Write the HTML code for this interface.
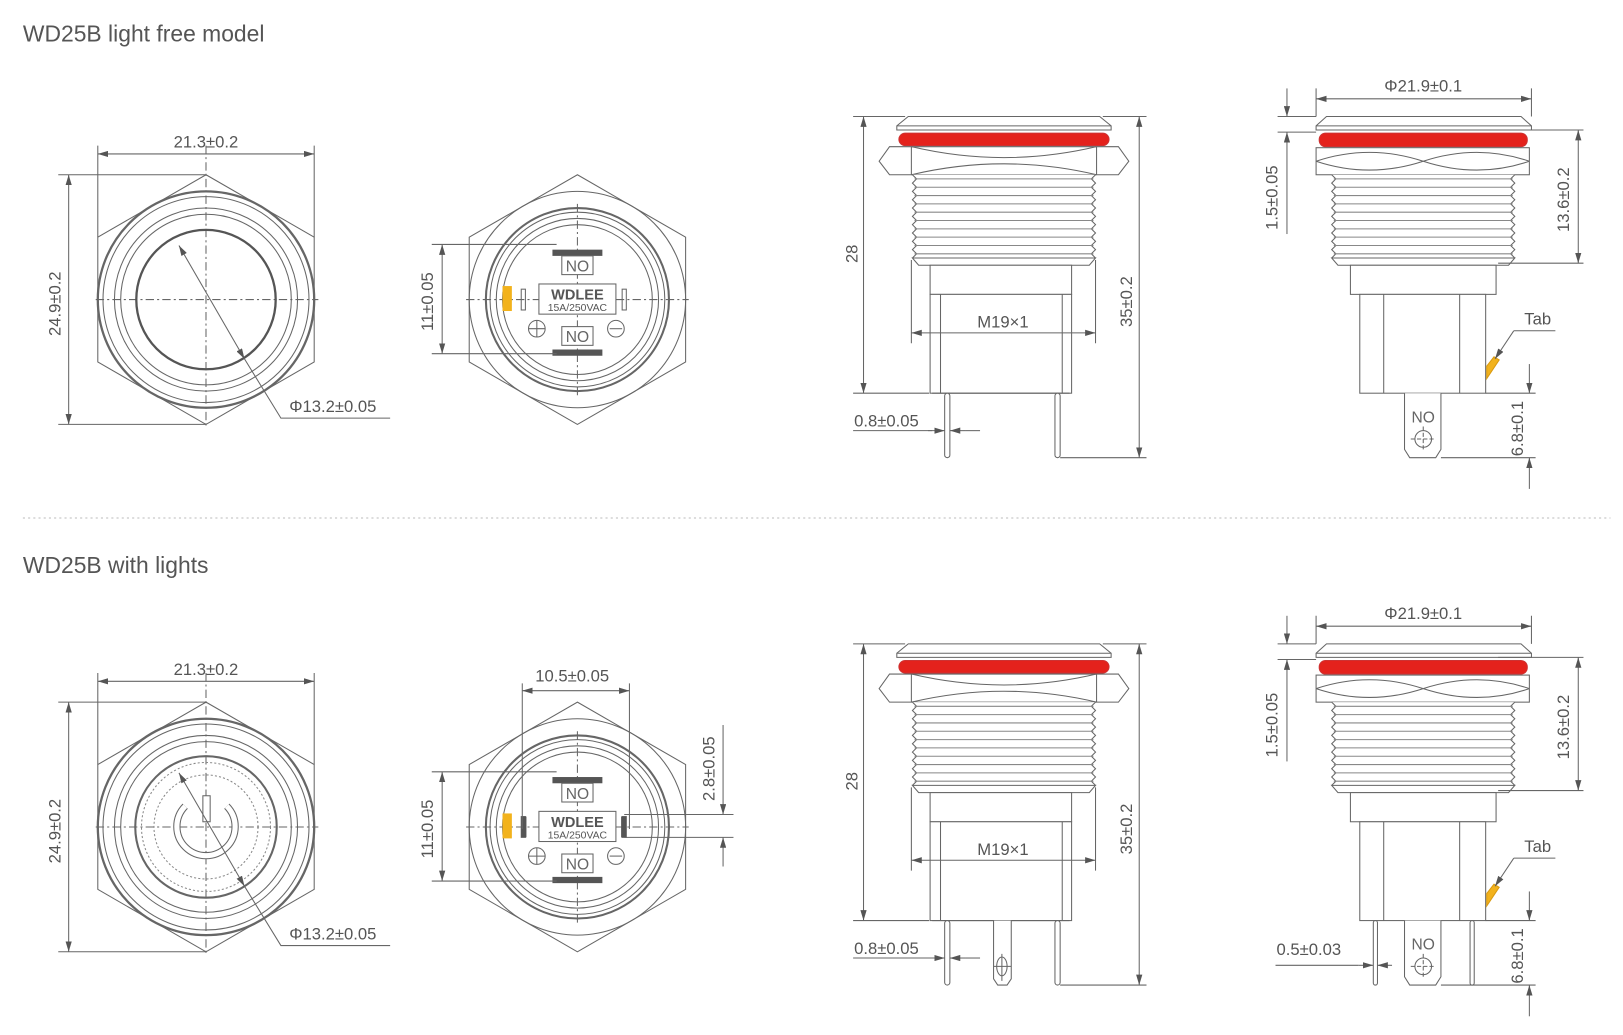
<!DOCTYPE html>
<html><head><meta charset="utf-8"><style>
html,body{margin:0;padding:0;background:#fff;}
svg{display:block;}
text{font-family:"Liberation Sans",sans-serif;fill:#555;}
</style></head><body>
<svg width="1623" height="1035" viewBox="0 0 1560 995" preserveAspectRatio="none" xmlns="http://www.w3.org/2000/svg">
<defs>
<marker id="a" viewBox="0 0 10 6" refX="10" refY="3" markerWidth="10" markerHeight="6" orient="auto-start-reverse" markerUnits="userSpaceOnUse"><path d="M0,0 L10,3 L0,6z" fill="#555"/></marker>

<g id="hexA" fill="none" stroke="#666">
<polygon points="198,168 302,228 302,348 198,408 94,348 94,228" stroke-width="1"/>
<circle cx="198" cy="288" r="104" stroke-width="2.2"/>
<circle cx="198" cy="288" r="99"/>
<circle cx="198" cy="288" r="88"/>
<circle cx="198" cy="288" r="82"/>
<line x1="92" y1="288" x2="306" y2="288" stroke-dasharray="8,3,2,3"/>
<line x1="198" y1="140" x2="198" y2="412" stroke-dasharray="8,3,2,3"/>
</g>

<g id="hexB" fill="none" stroke="#666">
<polygon points="555,168 659,228 659,348 555,408 451,348 451,228"/>
<circle cx="555" cy="288" r="104"/>
<circle cx="555" cy="288" r="88" stroke-width="2"/>
<circle cx="555" cy="288" r="84"/>
<circle cx="555" cy="288" r="78"/>
<circle cx="555" cy="288" r="72"/>
<line x1="448" y1="288" x2="662" y2="288" stroke-dasharray="8,3,2,3"/>
<line x1="555" y1="196" x2="555" y2="382" stroke-dasharray="8,3,2,3"/>
<rect x="531" y="240" width="48" height="6" fill="#555" stroke="none"/>
<rect x="531" y="336" width="48" height="6" fill="#555" stroke="none"/>
<rect x="540" y="246" width="30" height="18" fill="#fff"/>
<rect x="540" y="314" width="30" height="18" fill="#fff"/>
<rect x="518" y="273" width="74" height="29" fill="#fff"/>
<rect x="483" y="275" width="9" height="24" fill="#f2b21c" stroke="none"/>
<rect x="501" y="278" width="4" height="20"/>
<rect x="598" y="278" width="4" height="20"/>
<circle cx="516" cy="316" r="8"/><path d="M508,316h16M516,308v16"/>
<circle cx="592" cy="316" r="8"/><path d="M586,316h12"/>
</g>

<g id="sideA" stroke="#666" fill="#fff">
<polygon points="873,112 1057,112 1068,121 1068,125 862,125 862,121"/>
<line x1="862" y1="121" x2="1068" y2="121"/>
<rect x="864" y="128" width="202" height="12" rx="6" fill="#e4221c" stroke="#c33"/>
<polygon points="855,141 1075,141 1085,155 1075,168 855,168 845,155"/>
<path d="M876,141 Q965,162 1054,141 M876,168 Q965,147 1054,168 M876,141 V168 M1054,141 V168" fill="none"/>
<rect x="877" y="168" width="176" height="82" stroke="none"/>
<polyline fill="none" points="877,168 881,172 877,176 881,180 877,184 881,188 877,192 881,196 877,200 881,204 877,208 881,212 877,216 881,220 877,224 881,228 877,232 881,236 877,240 881,244 877,248"/>
<polyline fill="none" points="1053,168 1049,172 1053,176 1049,180 1053,184 1049,188 1053,192 1049,196 1053,200 1049,204 1053,208 1049,212 1053,216 1049,220 1053,224 1049,228 1053,232 1049,236 1053,240 1049,244 1053,248"/>
<path fill="none" d="M879,172H1051M879,180H1051M879,188H1051M879,196H1051M879,204H1051M879,212H1051M879,220H1051M879,228H1051M879,236H1051M879,244H1051" stroke="#888"/>
<polygon points="877,248 1053,248 1047,255 883,255"/>
<rect x="894" y="255" width="136" height="28"/>
<rect x="894" y="283" width="136" height="95"/>
<path d="M904,283V378M1021,283V378" fill="none"/>
<path d="M896,378 L1028,378" fill="none"/>
<rect x="908" y="378" width="5" height="62" rx="2.5"/>
<rect x="1014" y="378" width="5" height="62" rx="2.5"/>
</g>

<g id="sideB" stroke="#666" fill="#fff">
<polygon points="1275,112 1462,112 1472,121 1472,125 1265,125 1265,121"/>
<line x1="1265" y1="121" x2="1472" y2="121"/>
<rect x="1268" y="128" width="200" height="13" rx="6" fill="#e4221c" stroke="#c33"/>
<rect x="1265" y="142" width="205" height="26"/>
<path d="M1265,155 Q1316,138 1368,155 Q1420,138 1470,155 M1265,155 Q1316,172 1368,155 Q1420,172 1470,155" fill="none"/>
<rect x="1280" y="168" width="176" height="82" stroke="none"/>
<polyline fill="none" points="1280,168 1284,172 1280,176 1284,180 1280,184 1284,188 1280,192 1284,196 1280,200 1284,204 1280,208 1284,212 1280,216 1284,220 1280,224 1284,228 1280,232 1284,236 1280,240 1284,244 1280,248"/>
<polyline fill="none" points="1456,168 1452,172 1456,176 1452,180 1456,184 1452,188 1456,192 1452,196 1456,200 1452,204 1456,208 1452,212 1456,216 1452,220 1456,224 1452,228 1456,232 1452,236 1456,240 1452,244 1456,248"/>
<path fill="none" d="M1282,172H1454M1282,180H1454M1282,188H1454M1282,196H1454M1282,204H1454M1282,212H1454M1282,220H1454M1282,228H1454M1282,236H1454M1282,244H1454" stroke="#888"/>
<polygon points="1280,248 1456,248 1450,255 1286,255"/>
<rect x="1298" y="255" width="140" height="28"/>
<rect x="1307" y="283" width="121" height="95"/>
<path d="M1330,283V378M1403,283V378" fill="none"/>
<polygon points="1429,352 1436,343 1441,346 1429,364" fill="#f2b21c" stroke="#d99a10"/>
<path d="M1350,378 V432 L1355,440 H1380 L1385,432 V378"/>
<circle cx="1368" cy="422" r="8" fill="none"/><path d="M1356,422h24M1368,410v24" fill="none" stroke-dasharray="4,2"/>
</g>
</defs>

<!-- ===== ROW 1 ===== -->
<text x="22" y="40" font-size="22">WD25B light free model</text>

<use href="#hexA"/>
<circle cx="198" cy="288" r="67" fill="none" stroke="#555" stroke-width="2.2"/>
<g stroke="#666" fill="none">
<path d="M94,140V228M302,140V228"/>
<line x1="94" y1="148" x2="302" y2="148" marker-start="url(#a)" marker-end="url(#a)"/>
<path d="M56,168H198M56,408H198"/>
<line x1="66" y1="168" x2="66" y2="408" marker-start="url(#a)" marker-end="url(#a)"/>
<line x1="172" y1="236" x2="235" y2="345" marker-start="url(#a)" marker-end="url(#a)"/>
<path d="M235,345 L270,402 H375"/>
</g>
<text x="198" y="142" font-size="16" text-anchor="middle">21.3±0.2</text>
<text transform="translate(58,292) rotate(-90)" font-size="16" text-anchor="middle">24.9±0.2</text>
<text x="278" y="396" font-size="16">Φ13.2±0.05</text>

<use href="#hexB"/>
<text x="555" y="261" font-size="15" text-anchor="middle" style="fill:#666">NO</text>
<text x="555" y="329" font-size="15" text-anchor="middle" style="fill:#666">NO</text>
<text x="555" y="288" font-size="14" font-weight="bold" text-anchor="middle">WDLEE</text>
<text x="555" y="299" font-size="10" text-anchor="middle">15A/250VAC</text>
<g stroke="#666" fill="none">
<path d="M415,235H535M415,340H535"/>
<line x1="425" y1="235" x2="425" y2="340" marker-start="url(#a)" marker-end="url(#a)"/>
</g>
<text transform="translate(416,290) rotate(-90)" font-size="16" text-anchor="middle">11±0.05</text>

<use href="#sideA"/>
<g stroke="#666" fill="none">
<path d="M820,112H870M820,378H893"/>
<line x1="830" y1="112" x2="830" y2="378" marker-start="url(#a)" marker-end="url(#a)"/>
<path d="M1060,112H1102M1019,440H1102"/>
<line x1="1095" y1="112" x2="1095" y2="440" marker-start="url(#a)" marker-end="url(#a)"/>
<path d="M876,250V330M1053,250V330"/>
<line x1="876" y1="320" x2="1053" y2="320" marker-start="url(#a)" marker-end="url(#a)"/>
<path d="M820,414H896"/>
<line x1="892" y1="414" x2="908" y2="414" marker-end="url(#a)"/>
<line x1="928" y1="414" x2="913" y2="414" marker-end="url(#a)"/>
<path d="M928,414H942"/>
</g>
<text transform="translate(824,244) rotate(-90)" font-size="16" text-anchor="middle">28</text>
<text transform="translate(1088,290) rotate(-90)" font-size="16" text-anchor="middle">35±0.2</text>
<text x="964" y="315" font-size="16" text-anchor="middle">M19×1</text>
<text x="852" y="410" font-size="16" text-anchor="middle">0.8±0.05</text>

<use href="#sideB"/>
<text x="1368" y="406" font-size="15" text-anchor="middle" style="fill:#666">NO</text>
<g stroke="#666" fill="none">
<path d="M1265,85V112M1472,85V112"/>
<line x1="1265" y1="95" x2="1472" y2="95" marker-start="url(#a)" marker-end="url(#a)"/>
<path d="M1228,112H1265M1228,127H1265"/>
<line x1="1237" y1="85" x2="1237" y2="112" marker-end="url(#a)"/>
<line x1="1237" y1="225" x2="1237" y2="127" marker-end="url(#a)"/>
<path d="M1440,125H1522M1440,253H1522"/>
<line x1="1517" y1="125" x2="1517" y2="253" marker-start="url(#a)" marker-end="url(#a)"/>
<path d="M1428,378H1476M1385,440H1476"/>
<line x1="1470" y1="350" x2="1470" y2="378" marker-end="url(#a)"/>
<line x1="1470" y1="470" x2="1470" y2="440" marker-end="url(#a)"/>
<line x1="1455" y1="318" x2="1437" y2="345" marker-end="url(#a)"/>
<path d="M1455,318H1495"/>
</g>
<text x="1368" y="88" font-size="16" text-anchor="middle">Φ21.9±0.1</text>
<text transform="translate(1228,190) rotate(-90)" font-size="16" text-anchor="middle">1.5±0.05</text>
<text transform="translate(1508,192) rotate(-90)" font-size="16" text-anchor="middle">13.6±0.2</text>
<text transform="translate(1464,412) rotate(-90)" font-size="16" text-anchor="middle">6.8±0.1</text>
<text x="1478" y="312" font-size="16" text-anchor="middle">Tab</text>

<line x1="22" y1="498" x2="1548" y2="498" stroke="#bbb" stroke-dasharray="2,3"/>

<!-- ===== ROW 2 ===== -->
<text x="22" y="551" font-size="22">WD25B with lights</text>
<g transform="translate(0,507)">
<use href="#hexA"/>
<g fill="none" stroke="#666">
<circle cx="198" cy="288" r="68" stroke-width="2"/>
<circle cx="198" cy="288" r="62" stroke-dasharray="2,2" stroke="#888"/>
<circle cx="198" cy="288" r="50" stroke-dasharray="2,2" stroke="#888"/>
<path d="M178,268 A28,28 0 1 0 218,268" stroke-width="7" stroke="#666"/>
<path d="M178,268 A28,28 0 1 0 218,268" stroke-width="5" stroke="#fff"/>
<rect x="195" y="258" width="7" height="25" fill="#fff"/>
<path d="M94,140V228M302,140V228"/>
<line x1="94" y1="148" x2="302" y2="148" marker-start="url(#a)" marker-end="url(#a)"/>
<path d="M56,168H198M56,408H198"/>
<line x1="66" y1="168" x2="66" y2="408" marker-start="url(#a)" marker-end="url(#a)"/>
<line x1="172" y1="236" x2="235" y2="345" marker-start="url(#a)" marker-end="url(#a)"/>
<path d="M235,345 L270,402 H375"/>
</g>
<text x="198" y="142" font-size="16" text-anchor="middle">21.3±0.2</text>
<text transform="translate(58,292) rotate(-90)" font-size="16" text-anchor="middle">24.9±0.2</text>
<text x="278" y="396" font-size="16">Φ13.2±0.05</text>

<use href="#hexB"/>
<rect x="501" y="278" width="5" height="20" fill="#555"/>
<rect x="597" y="278" width="5" height="20" fill="#555"/>
<text x="555" y="261" font-size="15" text-anchor="middle" style="fill:#666">NO</text>
<text x="555" y="329" font-size="15" text-anchor="middle" style="fill:#666">NO</text>
<text x="555" y="288" font-size="14" font-weight="bold" text-anchor="middle">WDLEE</text>
<text x="555" y="299" font-size="10" text-anchor="middle">15A/250VAC</text>
<g stroke="#666" fill="none">
<path d="M415,235H535M415,340H535"/>
<line x1="425" y1="235" x2="425" y2="340" marker-start="url(#a)" marker-end="url(#a)"/>
<path d="M502,150V290M605,150V290"/>
<line x1="502" y1="157" x2="605" y2="157" marker-start="url(#a)" marker-end="url(#a)"/>
<path d="M600,276H705M600,298H705"/>
<line x1="695" y1="190" x2="695" y2="276" marker-end="url(#a)"/>
<line x1="695" y1="326" x2="695" y2="298" marker-end="url(#a)"/>
</g>
<text transform="translate(416,290) rotate(-90)" font-size="16" text-anchor="middle">11±0.05</text>
<text x="550" y="148" font-size="16" text-anchor="middle">10.5±0.05</text>
<text transform="translate(687,232) rotate(-90)" font-size="16" text-anchor="middle">2.8±0.05</text>

<use href="#sideA"/>
<g stroke="#666" fill="#fff">
<path d="M955,378 V434 L959,440 H968 L972,434 V378"/>
<ellipse cx="963" cy="422" rx="5" ry="9" fill="none"/>
<path d="M955,422H972M963,410V436" fill="none"/>
</g>
<g stroke="#666" fill="none">
<path d="M820,112H870M820,378H893"/>
<line x1="830" y1="112" x2="830" y2="378" marker-start="url(#a)" marker-end="url(#a)"/>
<path d="M1060,112H1102M1019,440H1102"/>
<line x1="1095" y1="112" x2="1095" y2="440" marker-start="url(#a)" marker-end="url(#a)"/>
<path d="M876,250V330M1053,250V330"/>
<line x1="876" y1="320" x2="1053" y2="320" marker-start="url(#a)" marker-end="url(#a)"/>
<path d="M820,414H896"/>
<line x1="892" y1="414" x2="908" y2="414" marker-end="url(#a)"/>
<line x1="928" y1="414" x2="913" y2="414" marker-end="url(#a)"/>
<path d="M928,414H942"/>
</g>
<text transform="translate(824,244) rotate(-90)" font-size="16" text-anchor="middle">28</text>
<text transform="translate(1088,290) rotate(-90)" font-size="16" text-anchor="middle">35±0.2</text>
<text x="964" y="315" font-size="16" text-anchor="middle">M19×1</text>
<text x="852" y="410" font-size="16" text-anchor="middle">0.8±0.05</text>

<use href="#sideB"/>
<rect x="1320" y="378" width="4" height="62" rx="2" fill="#fff" stroke="#666"/>
<rect x="1413" y="378" width="4" height="62" rx="2" fill="#fff" stroke="#666"/>
<text x="1368" y="406" font-size="15" text-anchor="middle" style="fill:#666">NO</text>
<g stroke="#666" fill="none">
<path d="M1265,85V112M1472,85V112"/>
<line x1="1265" y1="95" x2="1472" y2="95" marker-start="url(#a)" marker-end="url(#a)"/>
<path d="M1228,112H1265M1228,127H1265"/>
<line x1="1237" y1="85" x2="1237" y2="112" marker-end="url(#a)"/>
<line x1="1237" y1="225" x2="1237" y2="127" marker-end="url(#a)"/>
<path d="M1440,125H1522M1440,253H1522"/>
<line x1="1517" y1="125" x2="1517" y2="253" marker-start="url(#a)" marker-end="url(#a)"/>
<path d="M1428,378H1476M1385,440H1476"/>
<line x1="1470" y1="350" x2="1470" y2="378" marker-end="url(#a)"/>
<line x1="1470" y1="470" x2="1470" y2="440" marker-end="url(#a)"/>
<line x1="1455" y1="318" x2="1437" y2="345" marker-end="url(#a)"/>
<path d="M1455,318H1495"/>
<path d="M1226,421H1306"/>
<line x1="1306" y1="421" x2="1320" y2="421" marker-end="url(#a)"/>
<line x1="1338" y1="421" x2="1324" y2="421" marker-end="url(#a)"/>
</g>
<text x="1368" y="88" font-size="16" text-anchor="middle">Φ21.9±0.1</text>
<text transform="translate(1228,190) rotate(-90)" font-size="16" text-anchor="middle">1.5±0.05</text>
<text transform="translate(1508,192) rotate(-90)" font-size="16" text-anchor="middle">13.6±0.2</text>
<text transform="translate(1464,412) rotate(-90)" font-size="16" text-anchor="middle">6.8±0.1</text>
<text x="1478" y="312" font-size="16" text-anchor="middle">Tab</text>
<text x="1258" y="411" font-size="16" text-anchor="middle">0.5±0.03</text>
</g>
</svg>
</body></html>
